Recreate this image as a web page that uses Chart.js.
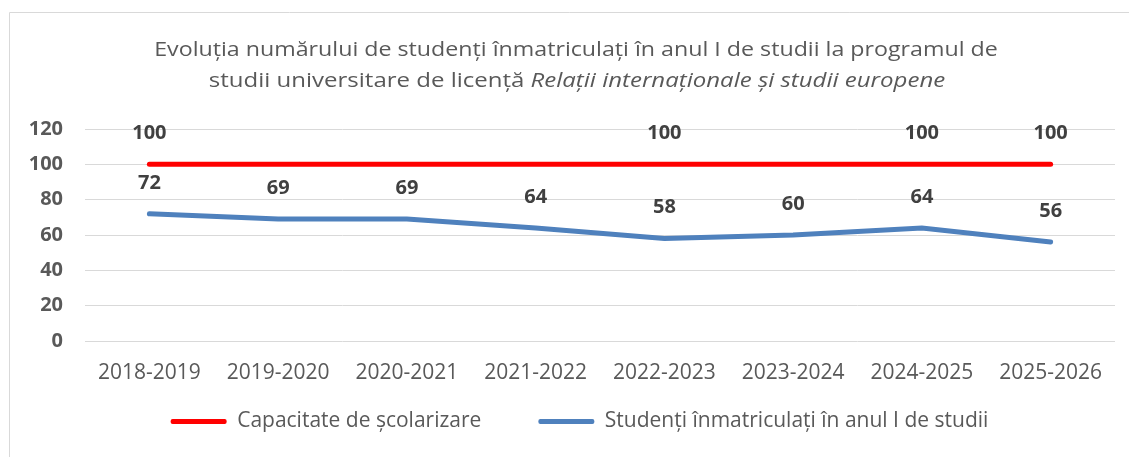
<!DOCTYPE html>
<html>
<head>
<meta charset="utf-8">
<script src="https://cdn.jsdelivr.net/npm/chart.js@4.4.1/dist/chart.umd.min.js"></script>
<style>
  html, body { margin: 0; padding: 0; background: #ffffff; }
  #wrap { position: relative; width: 1129px; height: 457px; }
</style>
</head>
<body>
<div id="wrap"><canvas id="c" width="1129" height="457"></canvas></div>
<script>
// ---- data ----
const categories = ["2018-2019", "2019-2020", "2020-2021", "2021-2022", "2022-2023", "2023-2024", "2024-2025", "2025-2026"];
const capacityValues = [100, 100, 100, 100, 100, 100, 100, 100];
const enrolledValues = [72, 69, 69, 64, 58, 60, 64, 56];
const capacityLabelShown = [true, false, false, false, true, false, true, true];
const enrolledLabelShown = [true, true, true, true, true, true, true, true];
const seriesNames = ["Capacitate de școlarizare", "Studenți înmatriculați în anul I de studii"];
const titleLine1 = "Evoluția numărului de studenți înmatriculați în anul I de studii la programul de";
const titleLine2Normal = "studii universitare de licență ";
const titleLine2Italic = "Relații internaționale și studii europene";
const yTicks = [0, 20, 40, 60, 80, 100, 120];

const FONT = "'Open Sans', 'DejaVu Sans', sans-serif";

const frameAndTitle = {
  id: 'frameAndTitle',
  beforeDraw(chart) {
    const ctx = chart.ctx;
    ctx.save();
    ctx.strokeStyle = '#d9d9d9';
    ctx.lineWidth = 1;
    ctx.beginPath();
    ctx.moveTo(9.5, 457);
    ctx.lineTo(9.5, 12.5);
    ctx.lineTo(1129, 12.5);
    ctx.stroke();

    // title (two lines, second partly italic), slightly widened like the original rendering
    ctx.fillStyle = '#595959';
    ctx.textBaseline = 'middle';
    ctx.textAlign = 'left';
    const cx = 576;
    ctx.font = "20px " + FONT;
    const w1 = ctx.measureText(titleLine1).width;
    const wn = ctx.measureText(titleLine2Normal).width;
    ctx.font = "italic 20px " + FONT;
    const wi = ctx.measureText(titleLine2Italic).width;

    ctx.save();
    ctx.translate(cx, 0);
    ctx.scale(1.16, 1);
    ctx.font = "20px " + FONT;
    ctx.fillText(titleLine1, -w1 / 2, 50);
    ctx.restore();

    ctx.save();
    ctx.translate(577, 0);
    ctx.scale(1.2, 1);
    const start = -(wn + wi) / 2;
    ctx.font = "20px " + FONT;
    ctx.fillText(titleLine2Normal, start, 81);
    ctx.font = "italic 20px " + FONT;
    ctx.fillText(titleLine2Italic, start + wn, 81);
    ctx.restore();
    ctx.restore();

    // move the legend to where the original has it
    const lg = chart.legend;
    if (lg && !lg._shifted) {
      lg.left += 22; lg.right += 22;
      lg.top -= 33; lg.bottom -= 33;
      lg._shifted = true;
    }
  }
};

const valueLabels = {
  id: 'valueLabels',
  afterDatasetsDraw(chart) {
    const ctx = chart.ctx;
    const flags = [capacityLabelShown, enrolledLabelShown];
    ctx.save();
    ctx.font = "bold 20px " + FONT;
    ctx.fillStyle = '#404040';
    ctx.textAlign = 'center';
    ctx.textBaseline = 'middle';
    chart.data.datasets.forEach((ds, di) => {
      const meta = chart.getDatasetMeta(di);
      meta.data.forEach((pt, i) => {
        if (!flags[di][i]) return;
        ctx.fillText(String(ds.data[i]), pt.x, pt.y - 31);
      });
    });
    ctx.restore();
  }
};

new Chart(document.getElementById('c'), {
  type: 'line',
  data: {
    labels: categories,
    datasets: [
      {
        label: seriesNames[0],
        data: capacityValues,
        borderColor: '#ff0000',
        backgroundColor: '#ff0000',
        borderWidth: 5,
        borderCapStyle: 'round',
        pointRadius: 0,
        tension: 0
      },
      {
        label: seriesNames[1],
        data: enrolledValues,
        borderColor: '#4f81bd',
        backgroundColor: '#4f81bd',
        borderWidth: 5,
        borderCapStyle: 'round',
        pointRadius: 0,
        tension: 0
      }
    ]
  },
  options: {
    responsive: false,
    animation: false,
    layout: { padding: { left: 0, right: 14, top: 129, bottom: -18 } },
    plugins: {
      title: { display: false },
      tooltip: { enabled: false },
      legend: {
        position: 'bottom',
        labels: {
          color: '#595959',
          font: { family: FONT, size: 21 },
          boxWidth: 56,
          boxHeight: 5,
          padding: 57,
          generateLabels(chart) {
            return chart.data.datasets.map((ds, i) => ({
              text: ds.label,
              fillStyle: ds.borderColor,
              strokeStyle: ds.borderColor,
              lineWidth: 0,
              borderRadius: 2,
              fontColor: '#595959',
              datasetIndex: i,
              hidden: false
            }));
          }
        }
      }
    },
    scales: {
      x: {
        offset: true,
        grid: { display: false, drawTicks: false },
        border: { display: false },
        ticks: { color: '#595959', font: { family: FONT, size: 21 }, padding: 19, maxRotation: 0, autoSkip: false },
        afterFit(scale) { scale.height = 46; }
      },
      y: {
        min: 0,
        max: 120,
        afterBuildTicks(scale) { scale.ticks = yTicks.map(v => ({ value: v })); },
        grid: { color: '#d9d9d9', lineWidth: 1, drawTicks: false },
        border: { display: false },
        ticks: { color: '#595959', font: { family: FONT, size: 20, weight: 'bold' }, padding: 22 },
        afterFit(scale) { scale.width = 85; }
      }
    }
  },
  plugins: [frameAndTitle, valueLabels]
});
</script>
</body>
</html>
